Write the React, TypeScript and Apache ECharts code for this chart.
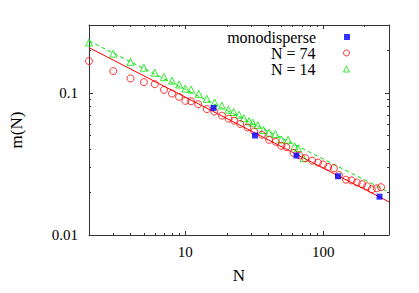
import { useEffect, useRef } from 'react';
import * as echarts from 'echarts';

// ---- data ----
const MONO_N = [16, 32, 64, 128, 256];
const MONO_M = [0.0783, 0.0501, 0.0362, 0.0259, 0.0186];

const N74_N = [2, 3, 4, 5, 6, 7, 8, 9, 10, 11, 12.4, 14.3, 16.2, 18.4, 20.6, 22.6, 25.0, 28.2, 31.6, 35.9, 40.5, 45.3, 49.5, 54.0, 60.9, 67.1, 74.2, 83.3, 91.6, 99.9, 108.7, 119.6, 129.9, 146.0, 160.6, 175.3, 191.5, 208.2, 225.1, 244.6, 262.8];
const N74_M = [0.1673, 0.1422, 0.1262, 0.1189, 0.115, 0.105, 0.0989, 0.0937, 0.0878, 0.0872, 0.0831, 0.0768, 0.0738, 0.0691, 0.0658, 0.0637, 0.0604, 0.0571, 0.0535, 0.0507, 0.0467, 0.0452, 0.0424, 0.0415, 0.0378, 0.0363, 0.0347, 0.0333, 0.0323, 0.0313, 0.0301, 0.0295, 0.0264, 0.0245, 0.0242, 0.0234, 0.0228, 0.022, 0.021, 0.0213, 0.0217];

const N14_N = [2, 3, 4, 5, 6, 7, 8, 9, 10, 11, 12.5, 14.3, 16.3, 18.4, 20.5, 22.4, 24.5, 26.6, 29.0, 30.8, 33.5, 36.9, 40.5, 45.0, 49.5, 55.6, 61.9, 65.7, 71.9];
const N14_M = [0.2258, 0.1887, 0.1651, 0.1502, 0.1385, 0.1289, 0.1218, 0.1145, 0.1072, 0.1055, 0.0984, 0.0907, 0.0854, 0.0813, 0.0762, 0.0734, 0.0702, 0.0663, 0.0632, 0.0617, 0.0592, 0.0547, 0.0524, 0.0513, 0.047, 0.0467, 0.042, 0.0408, 0.0347];

const FIT74_N = [2, 300];
const FIT74_M = [0.208, 0.0171];
const FIT14_N = [2, 300];
const FIT14_M = [0.232, 0.02];

const X_RANGE = [2, 300];
const Y_RANGE = [0.01, 0.3];
const X_MINOR = [3, 4, 5, 6, 7, 8, 9, 20, 30, 40, 50, 60, 70, 80, 90, 200];
const Y_MINOR = [0.02, 0.03, 0.04, 0.05, 0.06, 0.07, 0.08, 0.09, 0.2];

const SERIES_NAMES = ['monodisperse', 'N = 74', 'N = 14'];

const FONT = "'Liberation Serif', 'DejaVu Serif', serif";
const AXIS_COLOR = '#333';
const RED = '#ff0000';
const GREEN = '#00e600';
const BLUE = '#0000ff';

const fmtPow = (v: number) => {
  const l = Math.log10(v);
  const r = Math.round(l);
  if (Math.abs(l - r) > 1e-6) return '';
  return r >= 0 ? String(Math.round(v)) : v.toFixed(-r);
};

const pairs = (xs: number[], ys: number[]) => xs.map((x, i) => [x, ys[i]]);

function majorAxis(dim: 'x' | 'y', position: string, withLabel: boolean) {
  const isX = dim === 'x';
  const range = isX ? X_RANGE : Y_RANGE;
  return {
    type: 'log',
    logBase: 10,
    gridIndex: 0,
    position,
    min: range[0],
    max: range[1],
    axisLine: { show: true, onZero: false, lineStyle: { color: AXIS_COLOR, width: 1 } },
    axisTick: { show: true, inside: true, length: 4, lineStyle: { color: AXIS_COLOR, width: 1 } },
    axisLabel: {
      show: withLabel,
      formatter: fmtPow,
      fontSize: 15,
      fontFamily: FONT,
      color: '#000',
      margin: isX ? 9 : 11,
    },
    splitLine: { show: false },
    minorTick: { show: false },
    ...(withLabel
      ? {
          name: isX ? 'N' : 'm(N)',
          nameLocation: 'middle',
          nameGap: isX ? 32 : 64,
          nameRotate: isX ? 0 : 90,
          nameTextStyle: { fontSize: 17, fontFamily: FONT, color: '#000' },
        }
      : {}),
  };
}

// Decorative axis carrying the gnuplot-style minor ticks (2..9 per decade),
// on a linear axis spanning log10 of the same range.
function minorAxis(dim: 'x' | 'y', position: string) {
  const isX = dim === 'x';
  const range = isX ? X_RANGE : Y_RANGE;
  const vals = isX ? X_MINOR : Y_MINOR;
  return {
    type: 'value',
    gridIndex: 0,
    position,
    min: Math.log10(range[0]),
    max: Math.log10(range[1]),
    axisLine: { show: false, onZero: false },
    axisTick: {
      show: true,
      inside: true,
      length: 2,
      customValues: vals.map((v) => Math.log10(v)),
      lineStyle: { color: AXIS_COLOR, width: 1 },
    },
    axisLabel: { show: false },
    splitLine: { show: false },
    minorTick: { show: false },
  };
}

function legendFor(name: string, top: number, border: number) {
  return {
    data: [name],
    orient: 'vertical',
    align: 'right',
    right: 69,
    top,
    padding: 0,
    itemWidth: 6,
    itemHeight: 6,
    symbolKeepAspect: true,
    selectedMode: false,
    textStyle: { fontSize: 16, fontFamily: FONT, color: '#000', padding: [0, 23, 0, 0] },
    itemStyle: { borderWidth: border },
  };
}

export default function App() {
  const ref = useRef<HTMLDivElement>(null);
  useEffect(() => {
    const chart = echarts.init(ref.current!, null, { renderer: 'svg' });
    chart.setOption({
      animation: false,
      backgroundColor: '#fff',
      grid: { left: 89, right: 30, top: 25, bottom: 58, containLabel: false },
      xAxis: [majorAxis('x', 'bottom', true), minorAxis('x', 'bottom'), majorAxis('x', 'top', false), minorAxis('x', 'top')],
      yAxis: [majorAxis('y', 'left', true), minorAxis('y', 'left'), majorAxis('y', 'right', false), minorAxis('y', 'right')],
      legend: [legendFor(SERIES_NAMES[0], 29, 0), legendFor(SERIES_NAMES[1], 45, 1), legendFor(SERIES_NAMES[2], 61, 1)],
      series: [
        {
          type: 'line',
          name: 'fit74',
          xAxisIndex: 0,
          yAxisIndex: 0,
          data: pairs(FIT74_N, FIT74_M),
          symbol: 'none',
          lineStyle: { color: RED, width: 1 },
          silent: true,
          z: 1,
        },
        {
          type: 'line',
          name: 'fit14',
          xAxisIndex: 0,
          yAxisIndex: 0,
          data: pairs(FIT14_N, FIT14_M),
          symbol: 'none',
          lineStyle: { color: GREEN, width: 1, type: [4, 3] },
          silent: true,
          z: 1,
        },
        {
          type: 'scatter',
          name: SERIES_NAMES[2],
          xAxisIndex: 0,
          yAxisIndex: 0,
          data: pairs(N14_N, N14_M),
          symbol: 'triangle',
          symbolSize: 7,
          clip: false,
          itemStyle: { color: 'rgba(0,0,0,0)', borderColor: GREEN, borderWidth: 1 },
          z: 2,
        },
        {
          type: 'scatter',
          name: SERIES_NAMES[1],
          xAxisIndex: 0,
          yAxisIndex: 0,
          data: pairs(N74_N, N74_M),
          symbol: 'circle',
          symbolSize: 7,
          clip: false,
          itemStyle: { color: 'rgba(0,0,0,0)', borderColor: RED, borderWidth: 1 },
          z: 3,
        },
        {
          type: 'scatter',
          name: SERIES_NAMES[0],
          xAxisIndex: 0,
          yAxisIndex: 0,
          data: pairs(MONO_N, MONO_M),
          symbol: 'rect',
          symbolSize: 6,
          clip: false,
          itemStyle: { color: BLUE },
          z: 4,
        },
      ],
    });
    return () => chart.dispose();
  }, []);
  return (
    <div
      ref={ref}
      style={{ position: 'fixed', left: 0, top: 0, width: 419, height: 293, background: '#fff' }}
    />
  );
}
